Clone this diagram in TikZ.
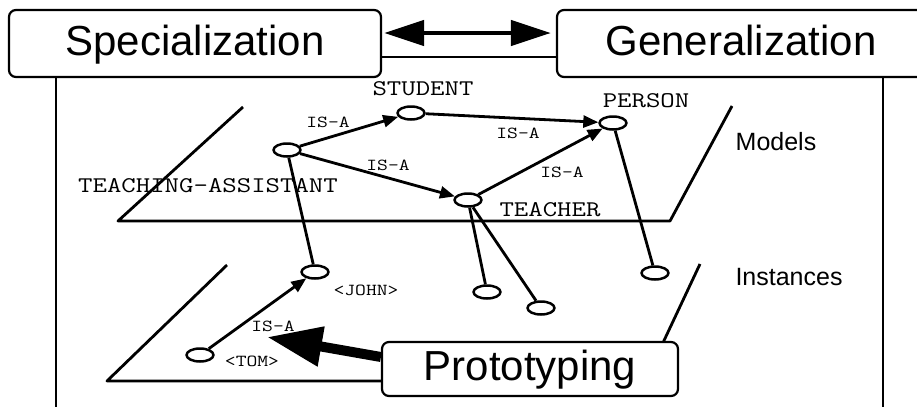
\documentclass[tikz,border=0pt]{standalone}
\usepackage{fontspec}
\setmainfont{Liberation Sans}
\usepackage{graphicx}
\usetikzlibrary{shapes.geometric,arrows.meta}
\newcommand\mono[1]{\scalebox{1.25}[1]{#1}}
\begin{document}
\begin{tikzpicture}[x=1pt,y=-1pt, line join=round,
  inst/.style={draw, ellipse, line width=2.5pt, minimum width=27pt, minimum height=13pt, inner sep=0pt, fill=white},
  bigbox/.style={draw, line width=2.2pt, rounded corners=7pt, inner sep=0pt, fill=white,
    font=\fontsize{42}{48}\selectfont, text height=30pt, text depth=7pt},
  biglab/.style={font=\fontsize{22.4}{24}\selectfont\ttfamily, anchor=base, inner sep=0pt},
  smalllab/.style={font=\fontsize{16.8}{18}\selectfont\ttfamily, anchor=base, inner sep=0pt},
  sidelab/.style={font=\fontsize{25}{28}\selectfont, anchor=base, inner sep=0pt},
  link/.style={line width=2.8pt},
  isa/.style={link, -{Triangle[length=15pt,width=12pt]}},
  plane/.style={line width=2.8pt}
]
\useasboundingbox (0,0) rectangle (917,407);

% frame lines
\coordinate (fl1) at (56,77);
\coordinate (fl2) at (56,407);
\coordinate (fr1) at (883,77);
\coordinate (fr2) at (883,407);
\draw[line width=2.2pt] (fl1) -- (fl2);
\draw[line width=2.2pt] (fr1) -- (fr2);

% top boxes
\node[bigbox, minimum width=372pt, minimum height=67pt] (spec) at (195,43.5) {Specialization};
\node[bigbox, minimum width=368pt, minimum height=67pt] (gen) at (741,43.5) {Generalization};
\draw[line width=4.5pt, {Triangle[length=40pt,width=25pt]}-{Triangle[length=40pt,width=25pt]}, shorten <=2pt, shorten >=5pt]
  ([yshift=10.5pt]spec.east) -- ([yshift=10.5pt]gen.west);
\draw[line width=2.2pt] ([yshift=-13.5pt]spec.east) -- ([yshift=-13.5pt]gen.west);

% planes
\coordinate (m1) at (243,107);
\coordinate (m2) at (118,221);
\coordinate (m3) at (670,221);
\coordinate (m4) at (732,106);
\draw[plane] (m1) -- (m2) -- (m3) -- (m4);
\coordinate (i1) at (227,265);
\coordinate (i2) at (107,381);
\coordinate (i3) at (645,381);
\coordinate (i4) at (700,264);
\draw[plane] (i1) -- (i2) -- (i3) -- (i4);

% ellipses
\node[inst] (ta) at (287,150) {};
\node[inst] (student) at (411,113) {};
\node[inst] (person) at (613,123) {};
\node[inst] (teacher) at (468,200) {};
\node[inst] (john) at (315,272) {};
\node[inst] (tom) at (200,355) {};
\node[inst] (ia) at (487,292) {};
\node[inst] (ib) at (541,308) {};
\node[inst] (ic) at (655,273) {};

% connectors
\draw[isa] (ta) -- (student);
\draw[isa] (ta) -- (teacher);
\draw[isa] (student) -- (person);
\draw[isa] (teacher) -- (person);
\draw[isa] (tom) -- (john);
\draw[link] (ta) -- (john);
\draw[link] (teacher) -- (ia);
\draw[link] (teacher) -- (ib);
\draw[link] (person) -- (ic);

% labels
\node[biglab] (lstudent) at (423,95) {\mono{STUDENT}};
\node[biglab] (lperson) at (646,107) {\mono{PERSON}};
\node[biglab] (lteacher) at (550,216) {\mono{TEACHER}};
\node[biglab] (lta) at (208,192) {\mono{TEACHING-ASSISTANT}};
\node[smalllab] (isa1) at (328,127) {\mono{IS-A}};
\node[smalllab] (isa2) at (388,170) {\mono{IS-A}};
\node[smalllab] (isa3) at (518,138) {\mono{IS-A}};
\node[smalllab] (isa4) at (562,177) {\mono{IS-A}};
\node[smalllab] (isa5) at (273,331) {\mono{IS-A}};
\node[smalllab] (ljohn) at (366,295) {\mono{<JOHN>}};
\node[smalllab] (ltom) at (252,366) {\mono{<TOM>}};
\node[sidelab] (models) at (776,150) {Models};
\node[sidelab] (instances) at (789,285) {Instances};

% prototyping
\node[bigbox, minimum width=296pt, minimum height=54pt] (proto) at (530,369) {Prototyping};
\coordinate (ptip) at (267,337);
\draw[line width=10pt, -{Triangle[length=55pt,width=38pt]}] ([yshift=12pt]proto.west) -- (ptip);
\end{tikzpicture}
\end{document}
